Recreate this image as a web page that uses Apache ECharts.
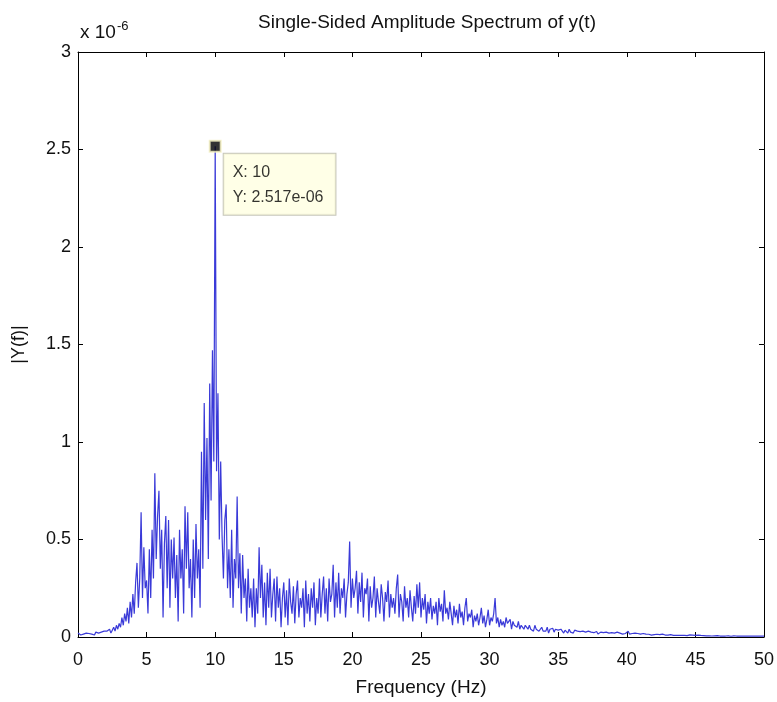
<!DOCTYPE html>
<html>
<head>
<meta charset="utf-8">
<title>Single-Sided Amplitude Spectrum of y(t)</title>
<script src="https://cdn.jsdelivr.net/npm/echarts@6/dist/echarts.min.js"></script>
<style>
  html, body { margin: 0; padding: 0; background: #fff; }
  #spectrum { width: 777px; height: 702px; }
</style>
</head>
<body>
<div id="spectrum"></div>
<script>
// frequency step of the FFT bins (Hz), amplitudes are in units of 1e-6
var freqStep = 0.1;
var yScale = 1e-6;
var xTicks = [0, 5, 10, 15, 20, 25, 30, 35, 40, 45, 50];
var yTicks = [0, 0.5, 1, 1.5, 2, 2.5, 3];

// |Y(f)|, one row per Hz (f = k.0 .. k.9)
var amp = [
  0.02,0.015,0.01,0.02,0.015,0.01,0.02,0.012,0.018,0.01,
  0.015,0.02,0.01,0.025,0.015,0.02,0.012,0.025,0.02,0.03,
  0.02,0.03,0.025,0.04,0.02,0.035,0.05,0.03,0.06,0.04,
  0.07,0.05,0.1,0.06,0.12,0.08,0.15,0.07,0.18,0.1,
  0.22,0.12,0.28,0.38,0.15,0.3,0.64,0.2,0.46,0.25,
  0.29,0.12,0.45,0.2,0.55,0.3,0.84,0.4,0.62,0.75,
  0.35,0.55,0.1,0.48,0.62,0.25,0.6,0.15,0.5,0.3,
  0.51,0.2,0.42,0.08,0.55,0.3,0.45,0.12,0.67,0.35,
  0.64,0.25,0.4,0.1,0.5,0.2,0.58,0.3,0.45,0.15,
  0.95,0.35,1.2,0.6,1.02,0.4,1.3,0.7,1.47,0.9,
  2.517,0.85,1.25,0.5,0.9,0.52,0.3,0.6,0.68,0.25,
  0.45,0.2,0.55,0.15,0.4,0.3,0.72,0.25,0.43,0.12,
  0.42,0.2,0.3,0.08,0.35,0.15,0.25,0.1,0.3,0.05,
  0.25,0.12,0.46,0.2,0.37,0.1,0.28,0.06,0.33,0.15,
  0.35,0.1,0.22,0.3,0.08,0.31,0.15,0.25,0.05,0.2,
  0.28,0.1,0.24,0.06,0.3,0.18,0.12,0.26,0.07,0.22,
  0.29,0.1,0.2,0.15,0.25,0.05,0.29,0.12,0.22,0.08,
  0.25,0.15,0.28,0.06,0.2,0.12,0.3,0.1,0.22,0.31,
  0.12,0.25,0.08,0.3,0.18,0.22,0.37,0.1,0.28,0.15,
  0.33,0.12,0.25,0.2,0.3,0.1,0.22,0.28,0.49,0.15,
  0.3,0.2,0.25,0.34,0.12,0.28,0.18,0.33,0.1,0.25,
  0.22,0.3,0.08,0.26,0.15,0.2,0.31,0.1,0.25,0.18,
  0.12,0.27,0.2,0.08,0.23,0.18,0.29,0.1,0.22,0.15,
  0.2,0.12,0.25,0.32,0.1,0.22,0.18,0.08,0.26,0.15,
  0.2,0.1,0.24,0.15,0.08,0.21,0.12,0.27,0.15,0.28,
  0.1,0.2,0.14,0.22,0.07,0.18,0.12,0.2,0.09,0.16,
  0.12,0.18,0.06,0.2,0.13,0.17,0.08,0.24,0.12,0.15,
  0.09,0.18,0.12,0.06,0.16,0.1,0.14,0.07,0.17,0.1,
  0.13,0.06,0.15,0.2,0.08,0.12,0.1,0.14,0.05,0.11,
  0.08,0.12,0.06,0.1,0.15,0.07,0.11,0.05,0.09,0.14,
  0.06,0.1,0.08,0.12,0.2,0.07,0.1,0.05,0.09,0.06,
  0.08,0.05,0.1,0.07,0.06,0.09,0.04,0.08,0.06,0.07,
  0.05,0.08,0.04,0.06,0.07,0.04,0.06,0.05,0.04,0.06,
  0.04,0.05,0.03,0.06,0.04,0.05,0.03,0.04,0.05,0.03,
  0.04,0.03,0.05,0.02,0.04,0.03,0.045,0.025,0.04,0.03,
  0.035,0.025,0.04,0.03,0.02,0.035,0.03,0.02,0.04,0.025,
  0.03,0.02,0.035,0.025,0.03,0.02,0.028,0.018,0.03,0.022,
  0.025,0.018,0.03,0.02,0.025,0.015,0.022,0.02,0.028,0.015,
  0.02,0.025,0.015,0.022,0.018,0.025,0.015,0.02,0.018,0.022,
  0.015,0.02,0.018,0.025,0.015,0.02,0.03,0.015,0.02,0.018,
  0.025,0.03,0.015,0.02,0.018,0.012,0.02,0.015,0.018,0.012,
  0.015,0.01,0.018,0.012,0.015,0.01,0.014,0.012,0.01,0.015,
  0.012,0.01,0.014,0.008,0.012,0.01,0.015,0.008,0.01,0.012,
  0.01,0.008,0.012,0.01,0.008,0.011,0.009,0.012,0.008,0.01,
  0.009,0.012,0.008,0.01,0.007,0.009,0.011,0.008,0.01,0.007,
  0.008,0.006,0.01,0.007,0.008,0.006,0.007,0.009,0.006,0.007,
  0.006,0.007,0.005,0.008,0.006,0.005,0.007,0.006,0.005,0.006,
  0.005,0.006,0.005,0.004,0.006,0.005,0.004,0.005,0.006,0.004,
  0.005,0.004,0.005,0.006,0.004,0.005,0.004,0.005,0.004,0.005,
  0.004,0.005,0.004,0.005,0.004,0.004,0.005,0.004,0.005,0.004,
  0.004
];

// data tip (MATLAB data cursor)
var cursorX = 10;
var cursorY = 2.517;

var chart = echarts.init(document.getElementById('spectrum'));

var lineData = [];
for (var i = 0; i < amp.length; i++) {
  lineData.push([+(i * freqStep).toFixed(1), amp[i]]);
}

var FONT = 'Liberation Sans, Arial, sans-serif';
var axisCommon = {
  type: 'value',
  axisLine: { show: true, onZero: false, lineStyle: { color: '#000', width: 1 } },
  axisTick: { show: true, inside: true, length: 5, lineStyle: { color: '#000' } },
  splitLine: { show: false }
};

var option = {
  backgroundColor: '#fff',
  animation: false,
  title: {
    text: 'Single-Sided Amplitude Spectrum of y(t)',
    left: 422,
    top: 8,
    textAlign: 'center',
    textStyle: { fontFamily: FONT, fontSize: 19, fontWeight: 'normal', color: '#111' }
  },
  grid: { left: 78, right: 11, top: 52, bottom: 65 },
  xAxis: [
    Object.assign({}, axisCommon, {
      position: 'bottom',
      min: 0, max: 50, interval: 5,
      name: 'Frequency (Hz)',
      nameLocation: 'middle',
      nameGap: 41,
      nameTextStyle: { fontFamily: FONT, fontSize: 19, color: '#111' },
      axisLabel: { margin: 14, fontFamily: FONT, fontSize: 18, color: '#111' }
    }),
    Object.assign({}, axisCommon, {
      position: 'top',
      min: 0, max: 50, interval: 5,
      axisLabel: { show: false }
    })
  ],
  yAxis: [
    Object.assign({}, axisCommon, {
      position: 'left',
      min: 0, max: 3, interval: 0.5,
      name: '|Y(f)|',
      nameLocation: 'middle',
      nameGap: 50,
      nameRotate: 90,
      nameTextStyle: { fontFamily: FONT, fontSize: 18, color: '#111' },
      axisLabel: { margin: 7, fontFamily: FONT, fontSize: 18, color: '#111' }
    }),
    Object.assign({}, axisCommon, {
      position: 'right',
      min: 0, max: 3, interval: 0.5,
      axisLabel: { show: false }
    })
  ],
  graphic: [{
    type: 'text',
    left: 80,
    top: 20,
    style: {
      text: '{b|x 10}{s|-6}',
      rich: {
        b: { fontFamily: FONT, fontSize: 19, fill: '#111', verticalAlign: 'bottom', lineHeight: 22 },
        s: { fontFamily: FONT, fontSize: 13, fill: '#111', verticalAlign: 'top', padding: [0, 0, 9, 1], lineHeight: 22 }
      }
    }
  }],
  series: [
    {
      type: 'line',
      data: lineData,
      showSymbol: false,
      symbol: 'none',
      lineStyle: { color: '#3a3ad8', width: 1.2 },
      z: 2
    },
    {
      type: 'scatter',
      data: [[cursorX, cursorY]],
      symbol: 'rect',
      symbolSize: 11,
      itemStyle: { color: '#000', borderColor: '#f4f0c0', borderWidth: 2 },
      emphasis: { disabled: true },
      z: 5,
      label: {
        show: true,
        position: [15, 14],
        formatter: function (p) {
          var yv = (p.value[1] * yScale).toExponential(3).replace(/e-(\d)$/, 'e-0$1');
          return 'X: ' + p.value[0] + '\nY: ' + yv;
        },
        fontFamily: FONT,
        fontSize: 16,
        lineHeight: 25,
        color: '#000',
        backgroundColor: '#ffffe1',
        borderColor: '#b8b8a8',
        borderWidth: 1,
        padding: [6, 12, 5, 9],
        align: 'left',
        verticalAlign: 'top'
      }
    }
  ]
};

chart.setOption(option);
</script>
</body>
</html>
